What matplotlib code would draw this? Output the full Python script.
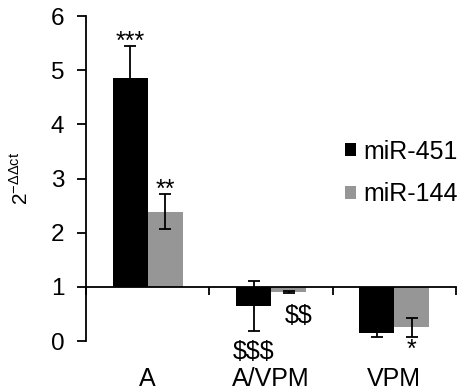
import matplotlib.pyplot as plt
import numpy as np

plt.rcParams['font.family'] = ['Liberation Sans', 'DejaVu Sans']

categories = ['A', 'A/VPM', 'VPM']
series_names = ['miR-451', 'miR-144']
mir451 = [4.85, 0.65, 0.15]
mir451_err = [0.59, 0.46, 0.08]
mir144 = [2.39, 0.90, 0.25]
mir144_err = [0.33, 0.02, 0.17]
baseline = 1.0
marks451 = ['***', '$$$', '']
marks144 = ['**', '$$', '*']

fig = plt.figure(figsize=(4.69, 3.92), dpi=100)
ax = fig.add_axes([0.1834, 0.130, 0.789, 0.829])

x = np.arange(1, len(categories) + 1)
w = 0.284

v451 = np.array(mir451)
v144 = np.array(mir144)
ax.bar(x - w / 2, v451 - baseline, w, bottom=baseline, color='black',
       label=series_names[0], zorder=2)
ax.bar(x + w / 2, v144 - baseline, w, bottom=baseline, color='#969696',
       label=series_names[1], zorder=2)
ax.errorbar(x - w / 2, v451, yerr=mir451_err, fmt='none', ecolor='black',
            elinewidth=1.3, capsize=4, capthick=1.3, zorder=3)
ax.errorbar(x + w / 2, v144, yerr=mir144_err, fmt='none', ecolor='black',
            elinewidth=1.3, capsize=4, capthick=1.3, zorder=3)

# significance marks (offsets in points)
for i in range(len(categories)):
    for xi, v, e, m in [(x[i] - w / 2, v451[i], mir451_err[i], marks451[i]),
                        (x[i] + w / 2, v144[i], mir144_err[i], marks144[i])]:
        if not m:
            continue
        if v >= baseline:
            off, va, y = (0, -2), 'baseline', v + e
        elif '*' in m:
            off, va, y = (0, -1), 'top', v - e
        elif m == '$$':
            off, va, y = (7, -8), 'top', v - e
        else:
            off, va, y = (0, -7), 'top', v - e
        ax.annotate(m, (xi, y), xytext=off, textcoords='offset points',
                    ha='center', va=va, fontsize=18, parse_math=False)

ax.set_xlim(0.5, 3.5)
ax.set_ylim(0, 6)
ax.set_yticks(range(7))
ax.tick_params(axis='y', labelsize=17.5, length=6.5, width=1.3, pad=9)
ax.set_xticks([0.5, 1.5, 2.5, 3.5])
ax.set_xticklabels([])
ax.tick_params(axis='x', length=6, width=1.3, direction='out')
ax.spines['top'].set_visible(False)
ax.spines['right'].set_visible(False)
ax.spines['bottom'].set_position(('data', baseline))
ax.spines['bottom'].set_linewidth(1.3)
ax.spines['left'].set_linewidth(1.3)

for xi, c in zip(x, categories):
    ax.text(xi, -0.08, c, transform=ax.get_xaxis_transform(),
            ha='center', va='top', fontsize=18)

fig.text(21 / 469, 1 - 178 / 392, '2$^{\\mathregular{-ΔΔct}}$', rotation=90,
         ha='center', va='center', fontsize=15)

ax.legend(loc='center left', bbox_to_anchor=(0.70, 0.517), frameon=False,
          fontsize=18, handlelength=0.45, handleheight=0.45, handletextpad=0.3,
          labelspacing=0.75, borderaxespad=0, borderpad=0)

fig.savefig('out.png', dpi=100)
